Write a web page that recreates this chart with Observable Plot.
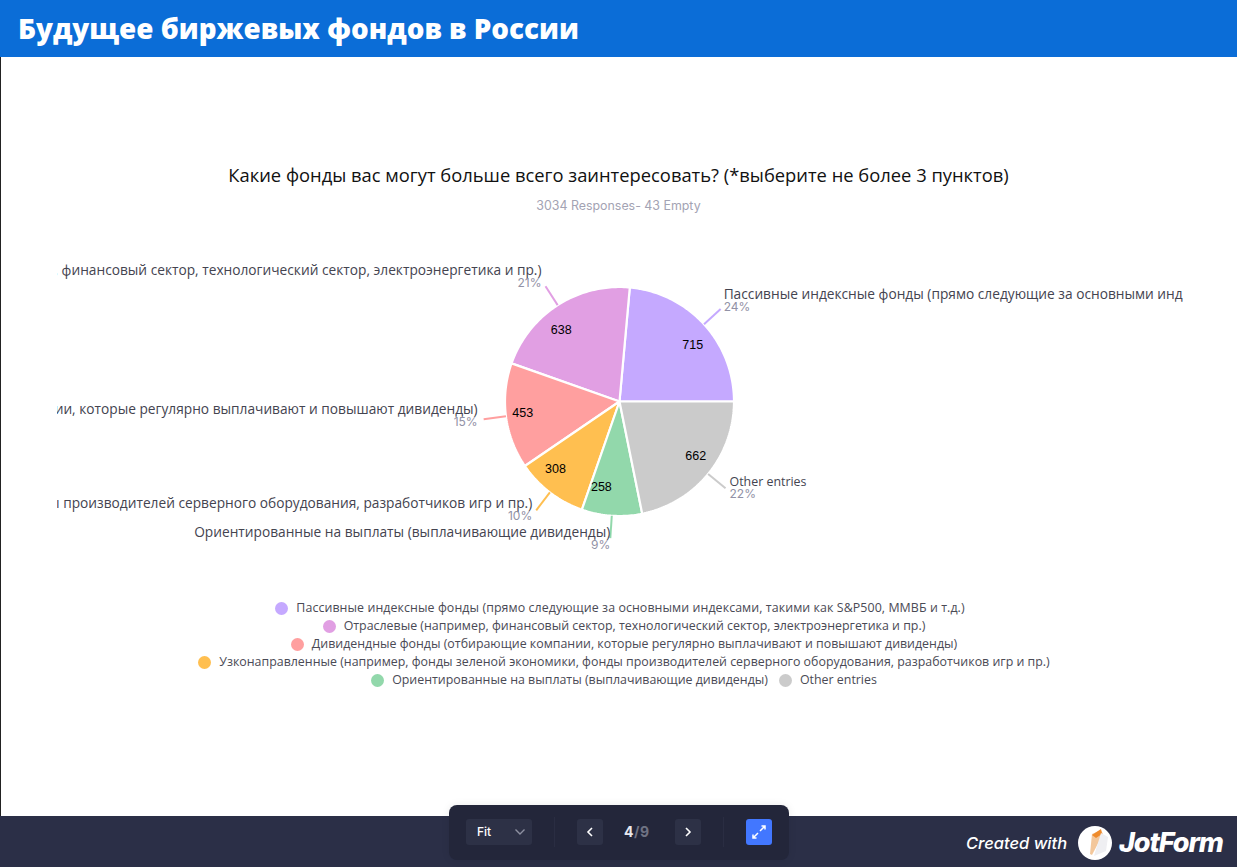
<!DOCTYPE html>
<html lang="ru">
<head>
<meta charset="utf-8">
<script src="https://cdn.jsdelivr.net/npm/d3@7"></script>
<script src="https://cdn.jsdelivr.net/npm/@observablehq/plot@0.6"></script>
<style>
  @font-face { font-family: "MixLatin"; src: local("Inter"); unicode-range: U+0020-007E; }
  html, body { margin: 0; padding: 0; background: #fff; }
  body { position: relative; width: 1237px; height: 867px; overflow: hidden; font-family: "Open Sans", sans-serif; }
  #leftline { position: absolute; left: 0; top: 57px; width: 1px; height: 760px; background: #222; }
  #head { position: absolute; left: 0; top: 0; width: 1237px; height: 57px; background: #0b6dd7; color: #fff;
    font: 800 27.8px/57px "Open Sans", sans-serif; padding-left: 18px; box-sizing: border-box; }
  #title { position: absolute; left: 0; width: 1237px; top: 163px; text-align: center; font: 18.35px/24px "Open Sans", sans-serif; color: #111; }
  #sub { position: absolute; left: 0; width: 1237px; top: 197px; text-align: center; font: 12.4px/17px "Inter", sans-serif; color: #a3a3b3; }
  #chart { position: absolute; left: 57px; top: 231px; width: 1126px; height: 340px; }
  #legend { position: absolute; left: 174px; width: 900px; top: 599px; display: flex; flex-wrap: wrap; justify-content: center; }
  .item { display: flex; align-items: center; height: 18px; font: 12.4px/18px "MixLatin", "Open Sans", sans-serif; color: #4a4a55; white-space: nowrap; margin: 0 0; }
  .item:first-child { letter-spacing: .08px; margin-right: 8px; }
  .item i { display: block; width: 13px; height: 13px; border-radius: 50%; margin-right: 8px; }
  .item.other { margin-left: 11px; }
  #foot { position: absolute; left: 0; top: 816px; width: 1237px; height: 51px; background: #2b2f47; }
  #ctrl { position: absolute; left: 449px; top: 805px; width: 340px; height: 55px; background: #23263a; border-radius: 8px; box-shadow: 0 0 8px rgba(0,0,0,.08); }
  .btn { position: absolute; top: 14px; height: 26px; background: #2d3146; border-radius: 3px; color: #fff; box-sizing: border-box; }
  .sep { position: absolute; top: 12px; width: 1px; height: 30px; background: #2a2d42; }
  .btn svg { display: block; }
  #fit { left: 17px; width: 66px; font: 500 12px/26px "Inter", sans-serif; padding-left: 11px; }
  #fit svg { position: absolute; left: 48px; top: 9px; }
  #page { position: absolute; left: 175px; top: 14px; font: 700 14px/26px "Inter", sans-serif; color: #e8e8ee; letter-spacing: .5px; }
  #page span { color: #6f7283; }
  #created { position: absolute; left: 966px; top: 832px; color: #fff; font: italic 500 16.5px/22px "Inter", sans-serif; }
  #jot { position: absolute; left: 1119px; top: 825px; color: #fff; font: italic 800 27px/36px "Inter", sans-serif; letter-spacing: -1.1px; }
  #logo { position: absolute; left: 1077px; top: 825px; }
</style>
</head>
<body>
<div id="head">Будущее биржевых фондов в России</div>
<div id="leftline"></div>
<div id="title">Какие фонды вас могут больше всего заинтересовать? (*выберите не более 3 пунктов)</div>
<div id="sub">3034 Responses- 43 Empty</div>
<div id="chart"></div>
<div id="legend"></div>
<div id="foot"></div>
<div id="ctrl">
  <div class="btn" id="fit">Fit<svg width="12" height="8" viewBox="0 0 12 8"><path d="M1.5 1.5 6 6l4.5-4.5" fill="none" stroke="#8d90a0" stroke-width="1.4"/></svg></div>
  <div class="sep" style="left:105px"></div>
  <div class="btn" style="left:128px;width:26px"><svg width="26" height="26" viewBox="0 0 26 26"><path d="M15 9l-4 4 4 4" fill="none" stroke="#fff" stroke-width="1.6"/></svg></div>
  <div id="page">4<span>/9</span></div>
  <div class="btn" style="left:226px;width:26px"><svg width="26" height="26" viewBox="0 0 26 26"><path d="M11 9l4 4-4 4" fill="none" stroke="#fff" stroke-width="1.6"/></svg></div>
  <div class="sep" style="left:274px"></div>
  <div class="btn" style="left:297px;width:26px;background:#4277ff"><svg width="26" height="26" viewBox="0 0 26 26"><path d="M14 12l5-5M15.5 7H19v3.500M12 14l-5 5M10.500 19H7v-3.500" fill="none" stroke="#fff" stroke-width="1.5"/></svg></div>
</div>
<div id="created">Created with</div>
<svg id="logo" width="36" height="36" viewBox="0 0 36 36"><circle cx="18" cy="18" r="17" fill="#fff"/><path d="M13 29 15 9 24 5 26 9 15 30z" fill="#f3c79b"/><path d="M15 10 24 4 25 9 19 13z" fill="#ef8b2c"/><path d="M24 8 31 12 29 26 17 31z" fill="#efeff2"/></svg>
<div id="jot">JotForm</div>

<script>
const categories = [
  "Пассивные индексные фонды (прямо следующие за основными индексами, такими как S&P500, ММВБ и т.д.)",
  "Отраслевые (например, финансовый сектор, технологический сектор, электроэнергетика и пр.)",
  "Дивидендные фонды (отбирающие компании, которые регулярно выплачивают и повышают дивиденды)",
  "Узконаправленные (например, фонды зеленой экономики, фонды производителей серверного оборудования, разработчиков игр и пр.)",
  "Ориентированные на выплаты (выплачивающие дивиденды)",
  "Other entries"
];
const counts = [715, 638, 453, 308, 258, 662];
const shares = ["24%", "21%", "15%", "10%", "9%", "22%"];
const palette = ["#c5a9ff", "#e19fe3", "#ff9f9f", "#ffbf50", "#92d8ab", "#cbcbcb"];

// layout of the pie, in pixels per scale unit
const R = 114.5, leadOut = 137, valueR = 85;
const nudgeX = [3, -4, -6, -4, 0, 4];      // label gap from leader end
const nudgeY = [-8, -9.5, -4, -1, 0, -0.5]; // label block shift from leader end

const arcs = d3.pie().sort(null).startAngle(Math.PI / 2).endAngle(Math.PI / 2 - 2 * Math.PI)(counts);
const polar = (r, a) => ({x: r * Math.sin(a), y: r * Math.cos(a)});

const wedgePts = [];
const rows = categories.map((name, i) => {
  const {startAngle: a0, endAngle: a1} = arcs[i];
  const steps = Math.ceil(Math.abs(a1 - a0) / (Math.PI / 180));
  wedgePts.push({name, x: 0, y: 0});
  for (let s = 0; s <= steps; ++s) wedgePts.push({name, ...polar(R, a0 + (a1 - a0) * s / steps)});
  wedgePts.push({name, x: 0, y: 0});
  const mid = (a0 + a1) / 2;
  const p0 = polar(R, mid), p1 = polar(leadOut, mid), v = polar(valueR, mid);
  return {
    name, count: counts[i], share: shares[i], right: p1.x > 0,
    x0: p0.x, y0: p0.y, x1: p1.x, y1: p1.y, vx: v.x + (v.x > 0 ? 0 : -2), vy: v.y,
    lx: p1.x + nudgeX[i], ly: p1.y - nudgeY[i]
  };
});

const labelMarks = side => {
  const data = rows.filter(d => d.right === side);
  const anchor = side ? "start" : "end";
  return [
    Plot.text(data, {x: "vx", y: "vy", dy: 0.5, text: d => String(d.count), textAnchor: anchor, fill: "#000", fontSize: 12.5, fontFamily: "Liberation Sans, sans-serif"}),
    Plot.text(data, {x: "lx", y: "ly", dy: -6, text: "name", textAnchor: anchor, fill: "#444450", fontSize: d => d.name === "Other entries" ? 12.4 : 13.72, fontFamily: "Open Sans, sans-serif"}),
    Plot.text(data, {x: "lx", y: "ly", dy: 6.5, text: "share", textAnchor: anchor, fill: "#9292a6", fontSize: 12, fontFamily: "Inter, sans-serif"})
  ];
};

const plot = Plot.plot({
  width: 1126, height: 340,
  margin: 0,
  x: {domain: [-562, 564], range: [0, 1126], axis: null},
  y: {domain: [-170, 170], range: [340, 0], axis: null},
  color: {domain: categories, range: palette},
  style: {overflow: "hidden", background: "transparent"},
  marks: [
    Plot.line(wedgePts, {x: "x", y: "y", z: "name", fill: "name", stroke: "#fff", strokeWidth: 2.2, strokeLinejoin: "miter"}),
    Plot.link(rows, {x1: "x0", y1: "y0", x2: "x1", y2: "y1", stroke: "name", strokeWidth: 2}),
    ...labelMarks(true),
    ...labelMarks(false)
  ]
});
document.getElementById("chart").append(plot);

const legend = document.getElementById("legend");
categories.forEach((name, i) => {
  const it = document.createElement("div");
  it.className = "item" + (name === "Other entries" ? " other" : "");
  const dot = document.createElement("i");
  dot.style.background = palette[i];
  it.append(dot, document.createTextNode(name));
  legend.append(it);
});
</script>
</body>
</html>
